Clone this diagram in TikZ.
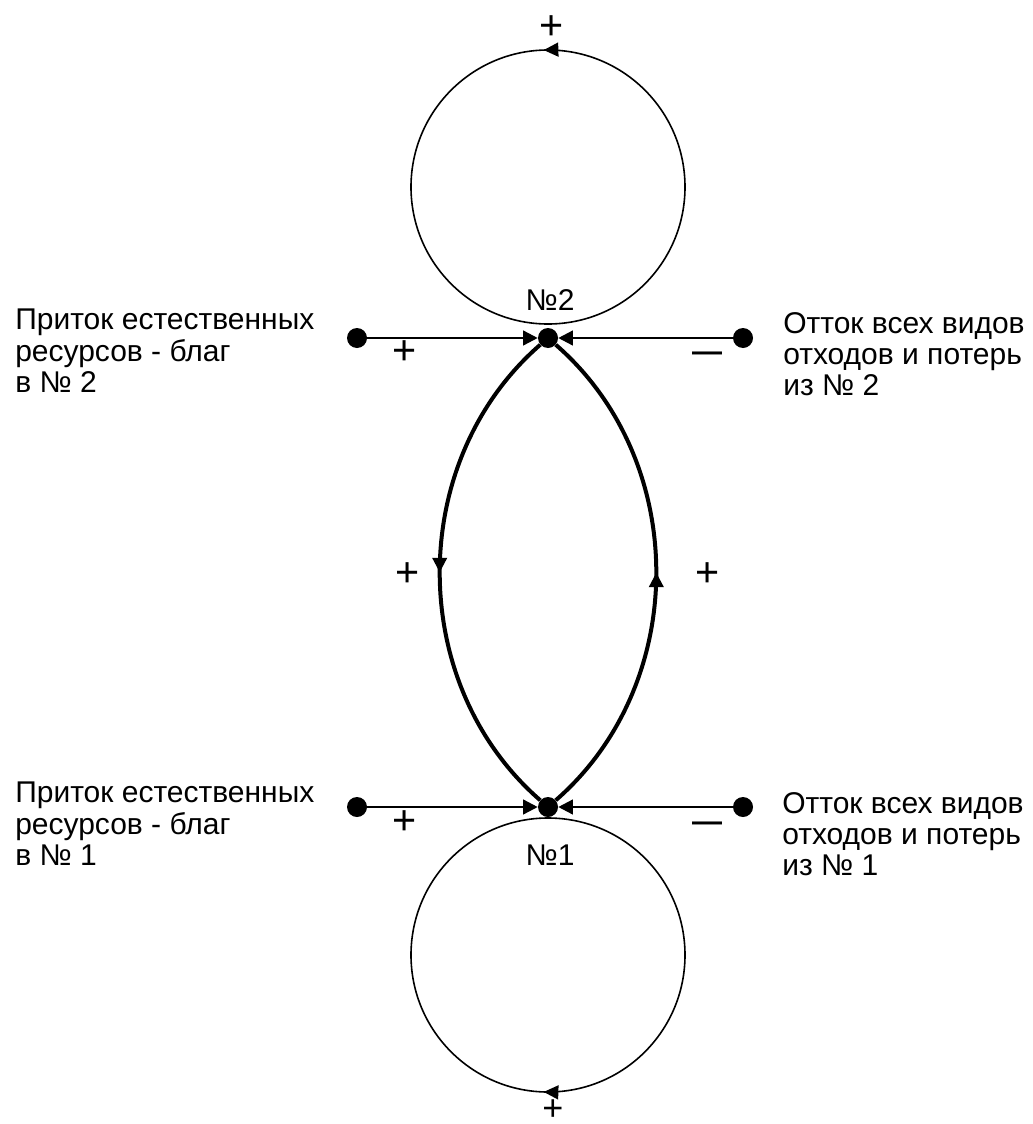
\documentclass[tikz,border=0pt]{standalone}
\usepackage{fontspec}
\setmainfont{Liberation Sans}
\usetikzlibrary{arrows.meta,decorations.markings}
\begin{document}
\begin{tikzpicture}[x=0.75pt,y=0.75pt,
  dot/.style={circle,fill=black,inner sep=0pt,minimum size=15pt},
  flow/.style={line width=1.8pt,-{Triangle[length=11pt,width=11pt]}},
  link/.style={line width=3pt},
  loopc/.style={line width=1.2pt},
  sign/.style={inner sep=0pt,font=\fontsize{31}{31}\selectfont},
  smallsign/.style={inner sep=0pt,font=\fontsize{27}{27}\selectfont},
  neg/.style={inner sep=0pt,font=\bfseries\fontsize{22.5}{22.5}\selectfont},
  lbl/.style={inner sep=0pt,font=\fontsize{22.5}{23.5}\selectfont},
  txt/.style={inner sep=0pt,anchor=north west,align=left,font=\fontsize{22.5}{23.5}\selectfont},
  fwdmark/.style={postaction={decorate},decoration={markings,mark=at position #1 with {\arrow{Triangle[length=11pt,width=10.5pt]}}}},
  revmark/.style={postaction={decorate},decoration={markings,mark=at position #1 with {\arrowreversed{Triangle[length=11pt,width=10.5pt]}}}}
]
\useasboundingbox (0,0) rectangle (1032,-1124);

% feedback loops
\draw[loopc,fwdmark=0.255] (548,-187) circle[radius=102.75pt];
\draw[loopc,revmark=0.745] (548,-955) circle[radius=102.75pt];

% nodes
\node[dot] (n2) at (548,-338) {};
\node[dot] (n1) at (548,-807) {};
\node[dot] (l2) at (357,-338) {};
\node[dot] (r2) at (743,-338) {};
\node[dot] (l1) at (357,-807) {};
\node[dot] (r1) at (743,-807) {};

% flows
\draw[flow] (l2) -- (n2);
\draw[flow] (r2) -- (n2);
\draw[flow] (l1) -- (n1);
\draw[flow] (r1) -- (n1);

% links between the two systems
\draw[link,fwdmark=0.5] (n2) to[bend right=49] (n1);
\draw[link,fwdmark=0.5] (n1) to[bend right=49] (n2);

% labels
\node[lbl] (lab2) at (550,-300) {№2};
\node[lbl] (lab1) at (550,-855) {№1};
\node[sign] (pt) at (552,-28) {+};
\node[smallsign] (pb) at (553,-1110) {+};
\node[sign] (pl2) at (405,-353) {+};
\node[sign] (pl1) at (405,-823) {+};
\node[sign] (pal) at (408,-575) {+};
\node[sign] (par) at (708,-575) {+};
\node[neg] (mr2) at (707,-357) {—};
\node[neg] (mr1) at (707,-827) {—};

% texts
\node[txt] (in2) at (15,-309) {Приток естественных\\ресурсов - благ\\в № 2};
\node[txt] (out2) at (783,-312) {Отток всех видов\\отходов и потерь\\из № 2};
\node[txt] (in1) at (15,-782) {Приток естественных\\ресурсов - благ\\в № 1};
\node[txt] (out1) at (782,-792) {Отток всех видов\\отходов и потерь\\из № 1};
\end{tikzpicture}
\end{document}
